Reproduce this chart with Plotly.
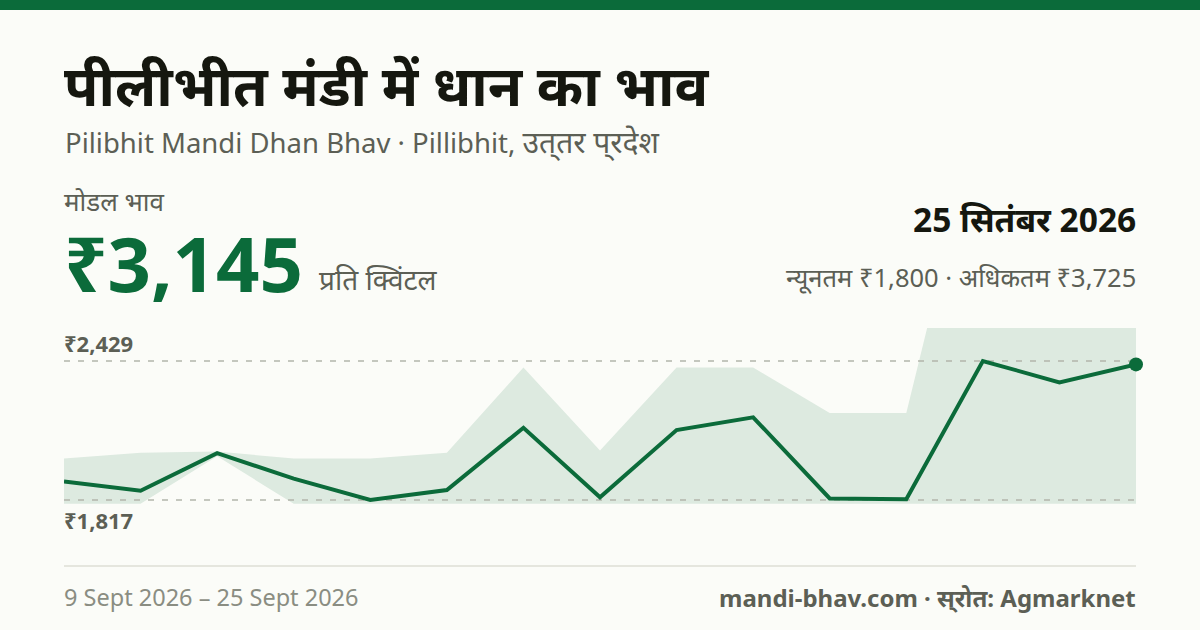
import plotly.graph_objects as go

GREEN = "#0b6b3a"
BG = "#fbfcf8"
DARK = "#15170f"
GREY = "#5c5f55"
LIGHT = "#8a8d82"
FONT = "Noto Sans, Noto Sans Devanagari, sans-serif"

# one entry per market day, spaced evenly on the chart
day = list(range(15))
modal = [1899, 1858, 2023, 1911, 1817, 1861, 2135, 1829, 2125, 2181, 1824, 1820, 2429, 2335, 2414]
low = [1800, 1800, 2010, 1800, 1800, 1800, 1800, 1800, 1800, 1800, 1800, 1800, 1800, 1800, 1800]
high = [2000, 2025, 2030, 2000, 2000, 2025, 2400, 2035, 2400, 2400, 2200, 2200, 3575, 3725, 3725]
ref_low = 1817
ref_high = 2429

W, H = 1200, 630

fig = go.Figure()
fig.add_trace(go.Scatter(x=day, y=low, mode="lines", line=dict(width=0), hoverinfo="skip"))
fig.add_trace(go.Scatter(x=day, y=high, mode="lines", line=dict(width=0), fill="tonexty",
                         fillcolor="rgba(11,107,58,0.12)", hoverinfo="skip"))
for v in [ref_low, ref_high]:
    fig.add_trace(go.Scatter(x=[day[0], day[-1]], y=[v, v], mode="lines", hoverinfo="skip",
                             line=dict(color="#b3b5aa", width=1.5, dash="6px,8px")))
fig.add_trace(go.Scatter(x=day, y=modal, mode="lines", cliponaxis=False,
                         line=dict(color=GREEN, width=4)))
fig.add_trace(go.Scatter(x=[day[-1]], y=[modal[-1]], mode="markers", cliponaxis=False,
                         marker=dict(color=GREEN, size=14)))


def label(px, py, text, size, color, bold=False, anchor="left"):
    fig.add_annotation(x=px / W, y=1 - py / H, xref="paper", yref="paper", text=text,
                       showarrow=False, xanchor=anchor, yanchor="middle", align=anchor,
                       borderpad=0, font=dict(family=FONT, size=size, color=color,
                                              weight="bold" if bold else "normal"))


# \u200c keeps the halant visible the way the reference draws these words
label(63, 84, "पीलीभीत मंडी में धान का भाव", 56, DARK, True)
label(64, 141, "Pilibhit Mandi Dhan Bhav · Pillibhit, <span style='font-size:30px'>उत्\u200cतर प्\u200cरदेश</span>", 27.5, GREY)
label(63, 201, "मोडल भाव", 26, GREY)
label(62.5, 262, "₹3,145", 76, GREEN, True)
label(318, 279, "प्रति क्विंटल", 28, GREY)
label(1137, 219, "25 सितंबर 2026", 33.5, DARK, True, "right")
label(1137, 277, "न्यूनतम ₹1,800 · अधिकतम ₹3,725", 25.5, GREY, False, "right")
label(63, 343, "₹2,429", 22, GREY, True)
label(63, 520, "₹1,817", 22, GREY, True)
label(63, 597, "9 Sept 2026 – 25 Sept 2026", 23.5, LIGHT)
label(1137, 597, "mandi-bhav.com · स्\u200cरोत: Agmarknet", 24, GREY, True, "right")

fig.add_shape(type="rect", xref="paper", yref="paper", x0=0, x1=1, y0=1 - 10 / H, y1=1,
              fillcolor=GREEN, line_width=0)
fig.add_shape(type="line", xref="paper", yref="paper", x0=64 / W, x1=1136 / W,
              y0=1 - 566 / H, y1=1 - 566 / H, line=dict(color="#e5e6de", width=2))

fig.update_layout(
    width=W, height=H, margin=dict(l=0, r=0, t=0, b=0), showlegend=False,
    paper_bgcolor=BG, plot_bgcolor=BG,
    xaxis=dict(visible=False, domain=[64 / W, 1136 / W], range=[0, 14]),
    yaxis=dict(visible=False, domain=[1 - 504 / H, 1 - 328 / H], range=[1799.4, 2574.3]),
)

fig.write_html("out.html", config={"displayModeBar": False},
               post_script="document.body.style.margin = '0';")
